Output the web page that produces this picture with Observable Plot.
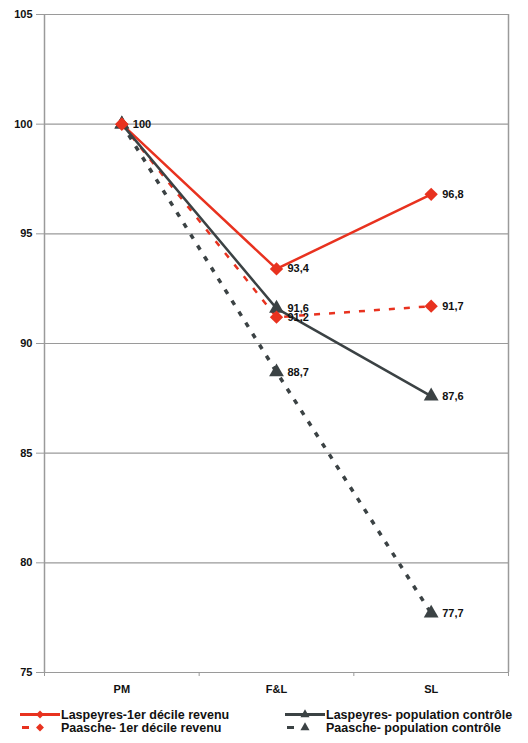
<!DOCTYPE html>
<html>
<head>
<meta charset="utf-8">
<script src="https://cdn.jsdelivr.net/npm/d3@7"></script>
<script src="https://cdn.jsdelivr.net/npm/@observablehq/plot@0.6"></script>
<style>
  body { margin: 0; background: #fff; font-family: "Liberation Sans", Arial, sans-serif; }
  #chart svg { display: block; }
  .legend { position: relative; height: 43px; font-weight: bold; font-size: 12.5px; color: #111; }
  .item { position: absolute; display: flex; align-items: center; height: 13px; line-height: 12px; white-space: nowrap; }
  .item svg { display: block; margin-right: 1px; }
</style>
</head>
<body>
<div id="chart"></div>
<div class="legend" id="legend"></div>
<script>
const categories = ["PM", "F&L", "SL"];
const seriesNames = [
  "Laspeyres-1er décile revenu",
  "Paasche- 1er décile revenu",
  "Laspeyres- population contrôle",
  "Paasche- population contrôle"
];
const laspeyresDecile = [100, 93.4, 96.8];
const paascheDecile = [100, 91.2, 91.7];
const laspeyresControle = [100, 91.6, 87.6];
const paascheControle = [100, 88.7, 77.7];
const yTicks = [75, 80, 85, 90, 95, 100, 105];

const RED = "#e8321f";
const DARK = "#3b4244";

const styles = [
  {color: RED, dash: null, symbol: "diamond2", width: 2.5},
  {color: RED, dash: "6,9", symbol: "diamond2", width: 2.5},
  {color: DARK, dash: null, symbol: "triangle", width: 2.5},
  {color: DARK, dash: "5,8", symbol: "triangle", width: 3.5}
];
const allValues = [laspeyresDecile, paascheDecile, laspeyresControle, paascheControle];

const data = [];
allValues.forEach((vals, s) => {
  vals.forEach((v, i) => data.push({series: seriesNames[s], s, cat: categories[i], idx: i + 0.5, value: v}));
});

const fmt = v => String(v).replace(".", ",");
const labels = data.filter(d => !(d.cat === "PM" && d.s !== 0));

const marks = [
  Plot.ruleY(yTicks, {y: d => d, stroke: "#9a9a9a", strokeWidth: 1.2}),
  Plot.ruleX([0, 3], {x: d => d, stroke: "#9a9a9a", strokeWidth: 1.5}),
  Plot.axisY({ticks: yTicks, label: null, tickSize: 8, tickPadding: 4, tickFormat: d => d, fontWeight: "bold", fontSize: 11, stroke: "#9a9a9a", color: "#111"}),
  Plot.axisX({ticks: [0, 1, 2, 3], label: null, tickSize: 4, tickFormat: () => "", stroke: "#9a9a9a"}),
  Plot.axisX({ticks: categories.map((c, i) => i + 0.5), label: null, tickSize: 0, tickPadding: 13, tickFormat: d => categories[Math.floor(d)], fontWeight: "bold", fontSize: 11, color: "#111"})
];

styles.forEach((st, s) => {
  const sd = data.filter(d => d.s === s);
  marks.push(Plot.line(sd, {x: "idx", y: "value", stroke: st.color, strokeWidth: st.width, strokeDasharray: st.dash, strokeLinecap: "butt"}));
});
[3, 2, 1, 0].forEach(s => {
  const st = styles[s];
  const sd = data.filter(d => d.s === s);
  marks.push(Plot.dot(sd, {x: "idx", y: "value", symbol: st.symbol, fill: st.color, stroke: "none", r: st.symbol === "diamond2" ? 6 : 5.5}));
});
marks.push(Plot.text(labels, {x: "idx", y: "value", text: d => fmt(d.value), dx: 11, textAnchor: "start", fontWeight: "bold", fontSize: 11, fill: "#111"}));

const chart = Plot.plot({
  width: 528,
  height: 700,
  marginLeft: 44,
  marginRight: 20,
  marginTop: 14,
  marginBottom: 28,
  style: {fontFamily: "'Liberation Sans', Arial, sans-serif", background: "#fff"},
  x: {type: "linear", domain: [0, 3], axis: null},
  y: {domain: [75, 105], axis: null},
  marks
});
document.getElementById("chart").appendChild(chart);

const legend = document.getElementById("legend");
const positions = [
  {left: 20, top: 8},
  {left: 20, top: 21},
  {left: 285, top: 8},
  {left: 285, top: 21}
];
styles.forEach((st, s) => {
  const item = document.createElement("div");
  item.className = "item";
  item.style.left = positions[s].left + "px";
  item.style.top = positions[s].top + "px";
  const sw = d3.create("svg").attr("width", 40).attr("height", 13);
  if (st.dash) {
    sw.append("line").attr("x1", 2).attr("x2", 9).attr("y1", 6.5).attr("y2", 6.5).attr("stroke", st.color).attr("stroke-width", 3);
  } else {
    sw.append("line").attr("x1", 0).attr("x2", 40).attr("y1", 6.5).attr("y2", 6.5).attr("stroke", st.color).attr("stroke-width", 3);
  }
  const sym = st.symbol === "diamond2" ? d3.symbolDiamond2 : d3.symbolTriangle;
  sw.append("path").attr("d", d3.symbol(sym, st.symbol === "diamond2" ? 40 : 36)()).attr("transform", "translate(20,6.5)").attr("fill", st.color);
  item.appendChild(sw.node());
  const label = document.createElement("span");
  label.textContent = seriesNames[s];
  item.appendChild(label);
  legend.appendChild(item);
});
</script>
</body>
</html>
